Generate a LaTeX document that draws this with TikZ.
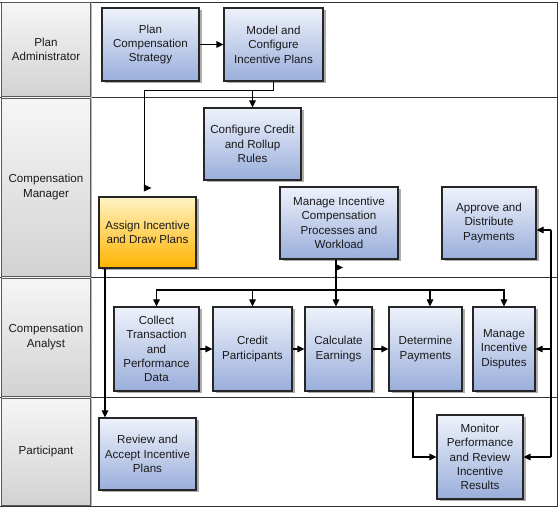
\documentclass[tikz,border=0pt]{standalone}
\usepackage{fontspec}
\setmainfont{Liberation Sans}
\usetikzlibrary{arrows.meta,shadows,calc}
\definecolor{bluetop}{HTML}{EEF2FB}
\definecolor{bluebot}{HTML}{9AAEDB}
\definecolor{yeltop}{HTML}{FFF3C4}
\definecolor{yelmid}{HTML}{FFD55E}
\definecolor{yelbot}{HTML}{FFB300}
\definecolor{graytop}{HTML}{F6F6F6}
\definecolor{graybot}{HTML}{D2D2D2}
\definecolor{boxline}{HTML}{262626}
\definecolor{txt}{HTML}{1A1A1A}
\tikzset{
  every node/.style={font=\fontsize{11.6}{14.4}\selectfont, text=txt},
  procbox/.style={draw=boxline, line width=1.2pt, align=center, inner sep=1pt,
    top color=bluetop, bottom color=bluebot,
    drop shadow={shadow xshift=2.5pt, shadow yshift=-2.5pt, fill=black!40, opacity=0.8}},
  yelbox/.style={procbox, top color=yeltop, middle color=yelmid, bottom color=yelbot},
  lanebox/.style={draw=black!65, line width=0.9pt, align=center, inner sep=1pt,
    top color=graytop, bottom color=graybot,
    drop shadow={shadow xshift=1.5pt, shadow yshift=-1.5pt, fill=black!35, opacity=0.8}},
  conn/.style={line width=1.2pt, draw=black},
  arr/.style={conn, -{Triangle[length=7pt,width=6.5pt]}},
  laneline/.style={line width=0.8pt, draw=black!80},
}
\begin{document}
\begin{tikzpicture}[x=1pt,y=-1pt]
\useasboundingbox (0,0) rectangle (560,510);
\fill[white] (0,0) rectangle (560,510);
% lane frame
\draw[laneline] (0,2) -- (557,2) -- (557,506) -- (0,506);
\draw[laneline] (0,97) -- (557,97);
\draw[laneline] (0,277) -- (557,277);
\draw[laneline] (0,397) -- (557,397);
% lane labels
\node[lanebox, minimum width=89pt, minimum height=94pt] (lab1) at (46,49.5) {Plan\\Administrator};
\node[lanebox, minimum width=89pt, minimum height=178pt] (lab2) at (46,187) {Compensation\\Manager};
\node[lanebox, minimum width=89pt, minimum height=118pt] (lab3) at (46,337) {Compensation\\Analyst};
\node[lanebox, minimum width=89pt, minimum height=107pt] (lab4) at (46,451.5) {Participant};
% process boxes
\node[procbox, minimum width=97pt, minimum height=73pt] (pcs) at (150.5,44.5) {Plan\\Compensation\\Strategy};
\node[procbox, minimum width=99pt, minimum height=73pt] (mci) at (273.5,44.5) {Model and\\Configure\\Incentive Plans};
\node[procbox, minimum width=97pt, minimum height=72pt] (ccr) at (252.5,144) {Configure Credit\\and Rollup\\Rules};
\node[yelbox, minimum width=97pt, minimum height=71pt] (aid) at (147.5,232.5) {Assign Incentive\\and Draw Plans};
\node[procbox, minimum width=118pt, minimum height=72pt] (micp) at (339,223) {Manage Incentive\\Compensation\\Processes and\\Workload};
\node[procbox, minimum width=94pt, minimum height=72pt] (adp) at (489,223) {Approve and\\Distribute\\Payments};
\node[procbox, minimum width=85pt, minimum height=84pt] (col) at (156.5,349) {Collect\\Transaction\\and\\Performance\\Data};
\node[procbox, minimum width=79pt, minimum height=84pt] (cre) at (252.5,349) {Credit\\Participants};
\node[procbox, minimum width=67pt, minimum height=84pt] (cal) at (338.5,349) {Calculate\\Earnings};
\node[procbox, minimum width=73pt, minimum height=84pt] (det) at (425.5,349) {Determine\\Payments};
\node[procbox, minimum width=62pt, minimum height=84pt] (dis) at (504,349) {Manage\\Incentive\\Disputes};
\node[procbox, minimum width=97pt, minimum height=72pt] (rev) at (147.5,454) {Review and\\Accept Incentive\\Plans};
\node[procbox, minimum width=86pt, minimum height=84pt] (mon) at (480,457) {Monitor\\Performance\\and Review\\Incentive\\Results};
% helper coordinates
\coordinate (j1) at ($(mci.south)+(0,9)$);
\coordinate (c1) at (144.5,188);
\coordinate (t) at (336,0);
\coordinate (bus) at (0,290);
\coordinate (r) at (551,0);
\coordinate (ra) at ($(adp.east)+(0,7)$);
% connectors
\draw[arr] (pcs.east) -- (mci.west);
\draw[arr] (mci.south) -- (j1) -| (ccr.north);
\draw[conn] (j1) -| (c1);
\fill (c1)+(-0.6,-3.5) -- +(7,0) -- +(-0.6,3.5) -- cycle;
\draw[arr] ([xshift=-42.5pt]aid.south) -- ([xshift=-42.5pt]aid.south |- rev.north);
\draw[arr] (micp.south -| t) -- (cal.north -| t);
\fill (335.6,264) -- (343,267.5) -- (335.6,271) -- cycle;
\draw[arr] (bus -| t) -| (col.north);
\draw[arr] (bus -| t) -| (cre.north);
\draw[arr] (bus -| t) -| ([xshift=4.5pt]det.north);
\draw[arr] (bus -| t) -| (dis.north);
\draw[arr] (col.east) -- (cre.west);
\draw[arr] (cre.east) -- (cal.west);
\draw[arr] (cal.east) -- (det.west);
\draw[arr] ([xshift=-12.5pt]det.south) |- (mon.west);
\draw[conn] (ra -| r) -- (mon.east -| r);
\draw[arr] (ra -| r) -- (ra);
\draw[arr] (dis.east -| r) -- (dis.east);
\draw[arr] (mon.east -| r) -- (mon.east);
\end{tikzpicture}
\end{document}
